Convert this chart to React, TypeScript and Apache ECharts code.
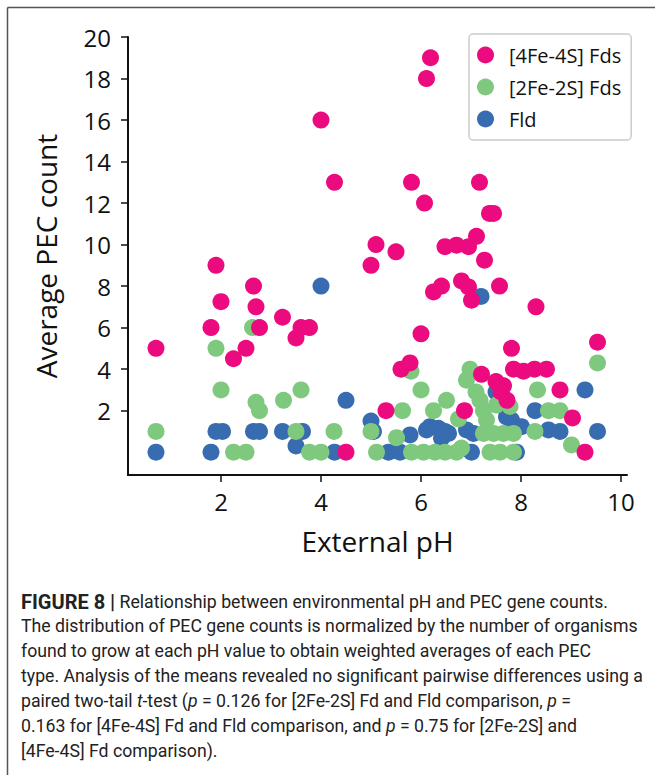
import React, { useEffect, useRef } from "react";
import * as echarts from "echarts";

// [pH, average PEC count]
const fe4s4Points: number[][] = [
  [0.7, 5], [1.8, 6], [1.9, 9], [2.0, 7.25], [2.25, 4.5], [2.5, 5], [2.65, 8], [2.7, 7], [2.77, 6],
  [3.23, 6.5], [3.5, 5.5], [3.6, 6], [3.77, 6], [4.0, 16], [4.27, 13], [4.5, 0], [5.0, 9], [5.1, 10],
  [5.3, 2], [5.5, 9.65], [5.6, 4], [5.78, 4.3], [5.81, 13], [6.0, 5.7], [6.07, 12], [6.11, 18], [6.19, 19],
  [6.25, 7.72], [6.41, 8], [6.48, 9.9], [6.71, 9.97], [6.81, 8.25], [6.87, 2], [6.95, 7.96], [6.95, 9.9],
  [7.01, 7.32], [7.11, 10.4], [7.17, 13], [7.21, 3.75], [7.27, 9.25], [7.37, 11.5], [7.45, 11.5],
  [7.5, 3.4], [7.57, 8], [7.65, 3.2], [7.6, 2.9], [7.72, 2.5], [7.81, 5], [7.85, 4], [8.05, 3.9],
  [8.27, 4], [8.3, 7], [8.51, 4], [8.78, 3], [9.03, 1.65], [9.28, 0], [9.53, 5.3],
];

const fe2s2Points: number[][] = [
  [0.7, 1], [1.9, 5], [2.0, 3], [2.25, 0], [2.5, 0], [2.63, 6], [2.7, 2.4], [2.77, 2], [3.25, 2.5],
  [3.5, 1], [3.6, 3], [3.77, 0], [4.0, 0], [4.26, 1], [5.0, 1], [5.11, 0], [5.51, 0.7], [5.63, 2],
  [5.8, 3.9], [5.81, 0], [6.0, 3], [6.05, 0], [6.25, 2], [6.28, 0], [6.48, 0], [6.51, 2.5], [6.71, 0],
  [6.75, 1.6], [6.81, 0.2], [6.91, 3.47], [6.98, 4.0], [7.1, 2.9], [7.18, 2.5], [7.25, 2.0], [7.31, 1.55],
  [7.25, 0.9], [7.38, 0], [7.45, 0.9], [7.51, 2.27], [7.58, 0], [7.65, 0.9], [7.78, 2.2], [7.85, 0.9],
  [7.85, 0], [8.28, 1], [8.33, 3], [8.55, 2], [8.78, 2], [9.01, 0.35], [9.53, 4.3],
];

const fldPoints: number[][] = [
  [0.7, 0], [1.8, 0], [1.9, 1], [2.03, 1], [2.65, 1], [2.77, 1], [3.23, 1], [3.5, 0.3], [3.63, 1],
  [4.0, 8], [4.27, 0], [4.5, 2.5], [5.0, 1.5], [5.05, 1], [5.35, 0], [5.58, 0], [5.78, 0.83],
  [6.11, 1.07], [6.18, 1.23], [6.35, 1.15], [6.41, 0.67], [6.48, 1], [6.55, 0.9], [6.91, 1.07],
  [7.01, 0], [7.05, 0.9], [7.2, 7.5], [7.5, 2.9], [7.58, 2.27], [7.71, 1.7], [7.81, 1.55], [7.91, 0],
  [8.01, 1.23], [8.28, 2], [8.55, 1.07], [8.78, 1], [9.28, 3], [9.53, 1],
];

const seriesNames = ["[4Fe-4S] Fds", "[2Fe-2S] Fds", "Fld"];
const xTicks = [2, 4, 6, 8, 10];
const yTicks = [2, 4, 6, 8, 10, 12, 14, 16, 18, 20];

const captionLines = [
  "{b|FIGURE 8 |} Relationship between environmental pH and PEC gene counts.",
  "The distribution of PEC gene counts is normalized by the number of organisms",
  "found to grow at each pH value to obtain weighted averages of each PEC",
  "type. Analysis of the means revealed no significant pairwise differences using a",
  "paired two-tail {i|t}-test ({i|p} = 0.126 for [2Fe-2S] Fd and Fld comparison, {i|p} =",
  "0.163 for [4Fe-4S] Fd and Fld comparison, and {i|p} = 0.75 for [2Fe-2S] and",
  "[4Fe-4S] Fd comparison).",
];

const FONT = "'Open Sans', 'Noto Sans', sans-serif";
const CAP_FONT = "Roboto, 'Liberation Sans', sans-serif";

export default function App() {
  const ref = useRef<HTMLDivElement>(null);
  useEffect(() => {
    if (!ref.current) return;
    const chart = echarts.init(ref.current, null, { renderer: "svg" });
    const capFontSize = 17.7;
    const caption = captionLines.map((line, i) => ({
      type: "text",
      left: 21,
      top: 592 + i * 25,
      style: {
        text: line,
        font: `${capFontSize}px ${CAP_FONT}`,
        fill: "#222",
        rich: {
          b: { fontWeight: "bold", fontSize: 20, fontFamily: CAP_FONT, fill: "#222" },
          i: { fontStyle: "italic", fontSize: capFontSize, fontFamily: CAP_FONT, fill: "#222" },
        },
      },
    }));
    chart.setOption({
      animation: false,
      backgroundColor: "#fff",
      grid: { left: 128, top: 37, right: 28, bottom: 300, outerBoundsMode: "none" },
      legend: {
        orient: "vertical",
        left: 469,
        top: 34,
        data: seriesNames,
        icon: "circle",
        itemWidth: 17,
        itemHeight: 17,
        itemGap: 12,
        padding: [11, 10, 11, 8],
        borderColor: "#cccccc",
        borderWidth: 1.5,
        borderRadius: 4,
        backgroundColor: "#fff",
        textStyle: { fontSize: 20, fontFamily: FONT, color: "#111", padding: [0, 0, 0, 10] },
      },
      xAxis: {
        type: "value",
        min: 0.14,
        max: 10.12,
        name: "External pH",
        nameLocation: "middle",
        nameGap: 52,
        nameTextStyle: { fontSize: 28, fontFamily: FONT, color: "#111" },
        splitLine: { show: false },
        axisLine: { onZero: false, lineStyle: { color: "#111", width: 2 } },
        axisTick: { customValues: xTicks, length: 7, lineStyle: { color: "#111", width: 1.5 } },
        axisLabel: { customValues: xTicks, fontSize: 24, fontFamily: FONT, color: "#111", margin: 14 },
      },
      yAxis: {
        type: "value",
        min: -1.1,
        max: 20,
        name: "Average PEC count",
        nameLocation: "middle",
        nameGap: 68,
        nameRotate: 90,
        nameTextStyle: { fontSize: 28, fontFamily: FONT, color: "#111" },
        splitLine: { show: false },
        axisLine: { onZero: false, lineStyle: { color: "#111", width: 2 } },
        axisTick: { customValues: yTicks, length: 7, lineStyle: { color: "#111", width: 1.5 } },
        axisLabel: { customValues: yTicks, fontSize: 24, fontFamily: FONT, color: "#111", margin: 17 },
      },
      series: [
        { name: seriesNames[0], type: "scatter", z: 4, data: fe4s4Points, symbolSize: 17, itemStyle: { color: "#ec0a7f", opacity: 1 } },
        { name: seriesNames[1], type: "scatter", z: 3, data: fe2s2Points, symbolSize: 17, itemStyle: { color: "#7fc97f", opacity: 1 } },
        { name: seriesNames[2], type: "scatter", z: 2, data: fldPoints, symbolSize: 17, itemStyle: { color: "#386cb0", opacity: 1 } },
      ],
      graphic: [
        { type: "line", shape: { x1: 7.5, y1: 7.5, x2: 655, y2: 7.5 }, style: { stroke: "#555", lineWidth: 1.5 } },
        { type: "line", shape: { x1: 7.5, y1: 7.5, x2: 7.5, y2: 775 }, style: { stroke: "#555", lineWidth: 1.5 } },
        ...caption,
      ],
    });
    return () => chart.dispose();
  }, []);
  return (
    <div
      ref={ref}
      style={{ position: "absolute", left: 0, top: 0, width: 655, height: 775 }}
    />
  );
}
